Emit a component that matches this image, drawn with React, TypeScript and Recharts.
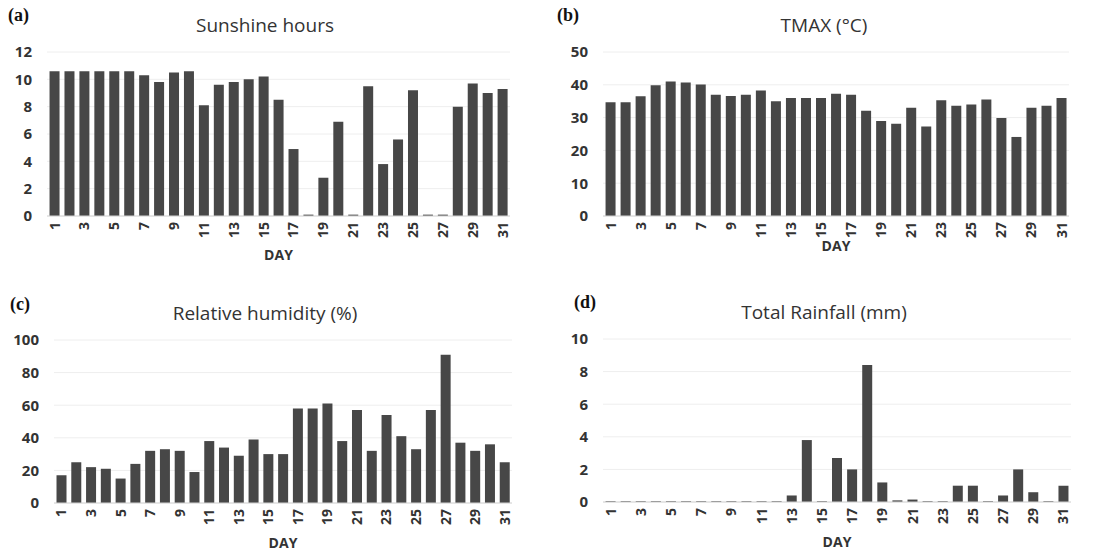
import { BarChart, Bar, XAxis, YAxis, CartesianGrid } from 'recharts'

const days = Array.from({ length: 31 }, (_, i) => String(i + 1))

const sunshine = [
  10.6, 10.6, 10.6, 10.6, 10.6, 10.6, 10.3, 9.8, 10.5, 10.6, 8.1, 9.6, 9.8, 10.0, 10.2, 8.5,
  4.9, 0.1, 2.8, 6.9, 0.1, 9.5, 3.8, 5.6, 9.2, 0.1, 0.1, 8.0, 9.7, 9.0, 9.3,
]
const tmax = [
  34.7, 34.7, 36.5, 39.9, 41.0, 40.7, 40.1, 37.0, 36.6, 37.0, 38.3, 35.0, 36.0, 36.0, 36.0, 37.3,
  37.0, 32.1, 29.0, 28.1, 33.0, 27.3, 35.3, 33.6, 34.0, 35.5, 29.9, 24.1, 33.0, 33.6, 36.0,
]
const humidity = [
  17, 25, 22, 21, 15, 24, 32, 33, 32, 19, 38, 34, 29, 39, 30, 30,
  58, 58, 61, 38, 57, 32, 54, 41, 33, 57, 91, 37, 32, 36, 25,
]
const rainfall = [
  0.05, 0.05, 0.05, 0.05, 0.05, 0.05, 0.05, 0.05, 0.05, 0.05, 0.05, 0.05, 0.4, 3.8, 0.05, 2.7,
  2.0, 8.4, 1.2, 0.1, 0.15, 0.05, 0.05, 1.0, 1.0, 0.05, 0.4, 2.0, 0.6, 0.05, 1.0,
]

const sunTicks = [0, 2, 4, 6, 8, 10, 12]
const tmaxTicks = [0, 10, 20, 30, 40, 50]
const humTicks = [0, 20, 40, 60, 80, 100]
const rainTicks = [0, 2, 4, 6, 8, 10]

const BAR = '#474747'
const TXT = '#333333'
const FONT = '"Open Sans", "DejaVu Sans", sans-serif'

const DayTick = (props: any) => {
  const { x, y, payload } = props
  return (
    <g transform={`translate(${x},${y})`}>
      <text
        transform="rotate(-90)"
        x={0}
        y={0}
        dy="0.36em"
        textAnchor="end"
        fill={TXT}
        fontSize={14}
        fontWeight={700}
        fontFamily={FONT}
      >
        {payload.value}
      </text>
    </g>
  )
}

interface PanelProps {
  left: number
  top: number
  height: number
  values: number[]
  ticks: number[]
  margin: { top: number; right: number; left: number; bottom: number }
  yWidth: number
  xHeight: number
  dayOffset: number
  title: string
  titleX: number
  titleY: number
  tag: string
  tagX: number
  tagY: number
}

function Panel(p: PanelProps) {
  const data = days.map((d, i) => ({ day: d, value: p.values[i] }))
  return (
    <>
      <div
        style={{
          position: 'absolute',
          left: p.tagX,
          top: p.tagY - 11,
          fontFamily: '"Liberation Serif", "Times New Roman", serif',
          fontWeight: 700,
          fontSize: 18,
          lineHeight: '22px',
          color: '#111',
        }}
      >
        {p.tag}
      </div>
      <div
        style={{
          position: 'absolute',
          left: p.titleX - 150,
          width: 300,
          top: p.titleY - 12,
          textAlign: 'center',
          fontFamily: FONT,
          fontSize: 19,
          lineHeight: '24px',
          color: '#333',
        }}
      >
        {p.title}
      </div>
      <div style={{ position: 'absolute', left: p.left, top: p.top }}>
        <BarChart width={550} height={p.height} data={data} margin={p.margin} barCategoryGap="17%">
          <CartesianGrid vertical={false} stroke="#eeeeee" />
          <XAxis
            dataKey="day"
            interval={1}
            tickLine={false}
            tickSize={6}
            tickMargin={0}
            stroke="#d4d4d4"
            height={p.xHeight}
            tick={<DayTick />}
            label={{
              value: 'DAY',
              position: 'insideBottom',
              offset: p.dayOffset,
              fill: TXT,
              fontSize: 14,
              fontWeight: 700,
              fontFamily: FONT,
            }}
          />
          <YAxis
            domain={[p.ticks[0], p.ticks[p.ticks.length - 1]]}
            ticks={p.ticks}
            axisLine={false}
            tickLine={false}
            tickMargin={9}
            width={p.yWidth}
            tick={{ fill: TXT, fontSize: 15, fontWeight: 700, fontFamily: FONT }}
          />
          <Bar dataKey="value" fill={BAR} isAnimationActive={false} />
        </BarChart>
      </div>
    </>
  )
}

export default function App() {
  return (
    <div
      style={{
        position: 'absolute',
        left: 0,
        top: 0,
        width: 1099,
        height: 554,
        background: '#fff',
        overflow: 'hidden',
      }}
    >
      <Panel
        left={0}
        top={0}
        height={270}
        values={sunshine}
        ticks={sunTicks}
        margin={{ top: 52, right: 40, left: 0, bottom: 0 }}
        yWidth={47}
        xHeight={54}
        dayOffset={10}
        title="Sunshine hours"
        titleX={265}
        titleY={25}
        tag="(a)"
        tagX={8}
        tagY={15}
      />
      <Panel
        left={549}
        top={0}
        height={270}
        values={tmax}
        ticks={tmaxTicks}
        margin={{ top: 52, right: 30, left: 0, bottom: 0 }}
        yWidth={54}
        xHeight={54}
        dayOffset={19}
        title="TMAX (°C)"
        titleX={824}
        titleY={25}
        tag="(b)"
        tagX={557}
        tagY={15}
      />
      <Panel
        left={0}
        top={280}
        height={274}
        values={humidity}
        ticks={humTicks}
        margin={{ top: 60, right: 38, left: 0, bottom: 0 }}
        yWidth={54}
        xHeight={51}
        dayOffset={6}
        title="Relative humidity (%)"
        titleX={265}
        titleY={313}
        tag="(c)"
        tagX={10}
        tagY={304}
      />
      <Panel
        left={549}
        top={280}
        height={274}
        values={rainfall}
        ticks={rainTicks}
        margin={{ top: 59, right: 28, left: 0, bottom: 0 }}
        yWidth={54}
        xHeight={52}
        dayOffset={7}
        title="Total Rainfall (mm)"
        titleX={824}
        titleY={312}
        tag="(d)"
        tagX={574}
        tagY={302}
      />
    </div>
  )
}
